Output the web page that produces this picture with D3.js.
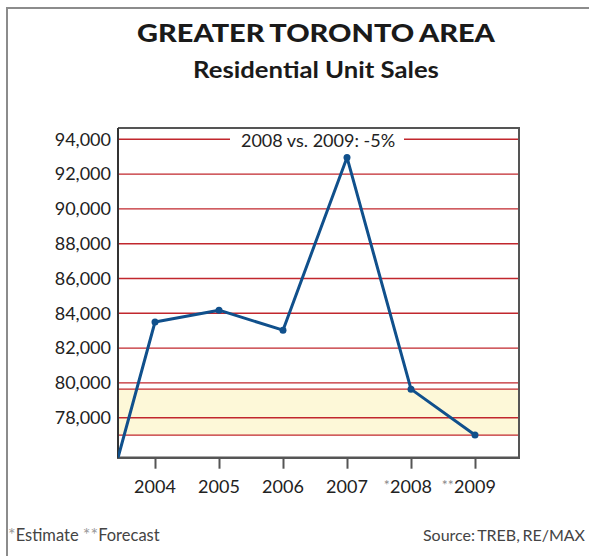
<!DOCTYPE html>
<html>
<head>
<meta charset="utf-8">
<script src="https://cdn.jsdelivr.net/npm/d3@7"></script>
<style>
  html, body { margin: 0; padding: 0; background: #fff; }
  svg { display: block; font-family: Lato, "Open Sans", sans-serif; }
</style>
</head>
<body>
<svg id="chart" width="589" height="556"></svg>
<script>
// ---- data ----
const years = [2003, 2004, 2005, 2006, 2007, 2008, 2009];
const sales = [70000, 83500, 84180, 83030, 92960, 79640, 77000];
const tickYears = [2004, 2005, 2006, 2007, 2008, 2009];
const tickPrefixes = ["", "", "", "", "*", "**"];
const yTicks = [78000, 80000, 82000, 84000, 86000, 88000, 90000, 92000, 94000];
const bandRange = [77000, 79640];
const titleText = "GREATER TORONTO AREA";
const subtitleText = "Residential Unit Sales";
const annotationText = "2008 vs. 2009: -5%";
const footLeft = ["*", "Estimate ", "**", "Forecast"];
const footRight = "Source: TREB, RE/MAX";

// ---- layout ----
const svg = d3.select("#chart");
const plot = { left: 118, right: 519, top: 128, bottom: 457.7 };
const x = d3.scaleLinear().domain([2004, 2009]).range([155, 475]);
const y = d3.scaleLinear().domain([75700, 94650]).range([plot.bottom, plot.top]);

const red = "#c1272d", blue = "#10508c";

svg.append("rect").attr("width", 589).attr("height", 556).attr("fill", "#fff");

// outer border
svg.append("path").attr("d", "M7,556 V8 H589")
  .attr("fill", "none").attr("stroke", "#8c8c8c").attr("stroke-width", 2);

// title: stretch horizontally to the reference width
function fitText(sel, cx, target) {
  const w = sel.node().getComputedTextLength();
  const s = target / w;
  sel.attr("transform", `translate(${cx},0) scale(${s.toFixed(4)},1) translate(${-cx},0)`);
}
const t1 = svg.append("text").attr("x", 316).attr("y", 42.3).attr("text-anchor", "middle")
  .attr("font-size", 24.5).attr("font-weight", 900).attr("fill", "#1a1a1a")
  .attr("word-spacing", -1).text(titleText);
fitText(t1, 316, 358);
const t2 = svg.append("text").attr("x", 316).attr("y", 78.3).attr("text-anchor", "middle")
  .attr("font-size", 22).attr("font-weight", 700).attr("fill", "#1a1a1a").text(subtitleText);
fitText(t2, 316, 246);

// band
svg.append("rect")
  .attr("x", plot.left).attr("width", plot.right - plot.left)
  .attr("y", y(bandRange[1])).attr("height", y(bandRange[0]) - y(bandRange[1]))
  .attr("fill", "#fdf8d8");

// gridlines
const gridVals = yTicks.concat(bandRange);
svg.append("g").selectAll("line").data(gridVals).join("line")
  .attr("x1", plot.left).attr("x2", plot.right)
  .attr("y1", d => y(d)).attr("y2", d => y(d))
  .attr("stroke", red).attr("stroke-width", 1.4);

// annotation
const ann = svg.append("g");
ann.append("rect").attr("x", 230).attr("width", 174)
  .attr("y", y(94000) - 10).attr("height", 20).attr("fill", "#fff");
ann.append("text").attr("x", 318).attr("y", 146.7).attr("text-anchor", "middle")
  .attr("font-size", 18).attr("fill", "#222").text(annotationText);

// y axis labels
const yAxis = d3.axisLeft(y).tickValues(yTicks).tickSize(0).tickPadding(7)
  .tickFormat(d3.format(","));
svg.append("g").attr("transform", `translate(${plot.left},0)`).call(yAxis)
  .call(g => g.select(".domain").remove())
  .selectAll("text").attr("font-size", 18).attr("fill", "#222")
  .attr("font-family", "Lato, sans-serif");

// frame
svg.append("path").attr("d", `M${plot.left},${plot.top} H${plot.right} V${plot.bottom}`)
  .attr("fill", "none").attr("stroke", "#555").attr("stroke-width", 2);

// x axis
const xAxis = d3.axisBottom(x).tickValues(tickYears).tickSize(11).tickPadding(0)
  .tickFormat(() => "");
const xg = svg.append("g").attr("transform", `translate(0,${plot.bottom})`).call(xAxis);
xg.select(".domain").remove();
xg.selectAll(".tick line").attr("stroke", "#555").attr("stroke-width", 2);
svg.append("line").attr("x1", plot.left - 1).attr("x2", plot.right + 1)
  .attr("y1", plot.bottom).attr("y2", plot.bottom)
  .attr("stroke", "#555").attr("stroke-width", 2.5);
svg.append("line").attr("x1", plot.left).attr("x2", plot.left)
  .attr("y1", plot.top).attr("y2", plot.bottom)
  .attr("stroke", "#333").attr("stroke-width", 2);

const xl = svg.append("g").selectAll("g").data(tickYears).join("g");
xl.append("text").attr("x", d => x(d)).attr("y", 492.7).attr("text-anchor", "middle")
  .attr("font-size", 18).attr("fill", "#222").text(d => d);
xl.each(function(d, i) {
  if (!tickPrefixes[i]) return;
  const g = d3.select(this);
  const w = g.select("text").node().getComputedTextLength();
  g.append("text").attr("x", x(d) - w / 2 - 0.5).attr("y", 490)
    .attr("text-anchor", "end").attr("font-size", 14).attr("fill", "#888")
    .text(tickPrefixes[i]);
});

// line
svg.append("clipPath").attr("id", "clip").append("rect")
  .attr("x", plot.left).attr("y", plot.top)
  .attr("width", plot.right - plot.left).attr("height", plot.bottom - plot.top);
const pts = years.map((yr, i) => ({ yr, v: sales[i] }));
svg.append("path").datum(pts).attr("clip-path", "url(#clip)")
  .attr("fill", "none").attr("stroke", blue).attr("stroke-width", 3)
  .attr("stroke-linejoin", "round")
  .attr("d", d3.line().x(d => x(d.yr)).y(d => y(d.v)));
svg.append("g").selectAll("circle").data(pts.filter(d => tickYears.includes(d.yr))).join("circle")
  .attr("cx", d => x(d.yr)).attr("cy", d => y(d.v)).attr("r", 3.5).attr("fill", blue);

// footer
const fl = svg.append("text").attr("x", 8).attr("y", 541).attr("font-size", 16.5).attr("fill", "#444");
footLeft.forEach(s => fl.append("tspan").attr("fill", s.startsWith("*") ? "#999" : "#444")
  .attr("font-size", s.startsWith("*") ? 18 : null).text(s));
svg.append("text").attr("x", 585).attr("y", 541).attr("text-anchor", "end")
  .attr("font-size", 16).attr("fill", "#444").attr("word-spacing", -1.5).text(footRight);
</script>
</body>
</html>
